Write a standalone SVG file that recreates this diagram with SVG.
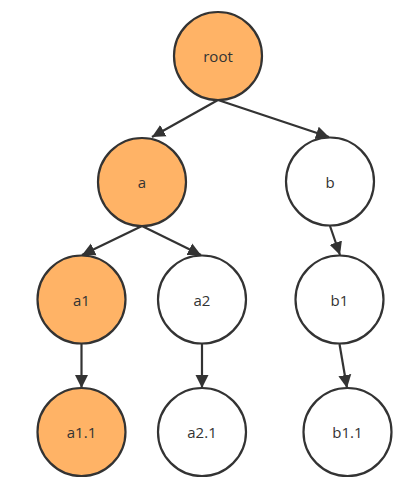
<svg xmlns="http://www.w3.org/2000/svg" width="413" height="487" viewBox="0 0 413 487">
<style>
.n circle{stroke:#333;stroke-width:2.2;fill:#fff}
.n.hl circle{fill:#ffb366}
.n text{font-family:"Open Sans","Noto Sans",sans-serif;font-size:15px;fill:#333;text-anchor:middle;dominant-baseline:central}
.e line{stroke:#333;stroke-width:2.2;marker-end:url(#ah)}
</style>
<defs>
<marker id="ah" markerUnits="userSpaceOnUse" markerWidth="14" markerHeight="14" refX="13" refY="6.5" orient="auto" viewBox="0 0 14 13">
<path d="M0,0 L13,6.5 L0,13 z" fill="#333"/>
</marker>
</defs>
<g class="e" id="connectors">
<line x1="218" y1="100" x2="152" y2="137"/>
<line x1="218" y1="100" x2="329" y2="137"/>
<line x1="142" y1="226" x2="82" y2="255"/>
<line x1="142" y1="226" x2="201" y2="255"/>
<line x1="330" y1="226" x2="340" y2="255"/>
<line x1="81.5" y1="344" x2="81.5" y2="388"/>
<line x1="202" y1="344" x2="202" y2="388"/>
<line x1="339.5" y1="344" x2="347" y2="388"/>
</g>
<g class="n hl" id="root"><circle cx="218" cy="56" r="44"/><text x="218" y="56">root</text></g>
<g class="n hl" id="a"><circle cx="142" cy="182" r="44"/><text x="142" y="182">a</text></g>
<g class="n" id="b"><circle cx="330" cy="181.5" r="44"/><text x="330" y="182">b</text></g>
<g class="n hl" id="a1"><circle cx="81.5" cy="299.5" r="44"/><text x="81.5" y="299.5">a1</text></g>
<g class="n" id="a2"><circle cx="202" cy="299.5" r="44"/><text x="202" y="299.5">a2</text></g>
<g class="n" id="b1"><circle cx="339.5" cy="299.5" r="44"/><text x="339.5" y="299.5">b1</text></g>
<g class="n hl" id="a1.1"><circle cx="81.5" cy="432" r="44"/><text x="81.5" y="432">a1.1</text></g>
<g class="n" id="a2.1"><circle cx="202" cy="432" r="44"/><text x="202" y="432">a2.1</text></g>
<g class="n" id="b1.1"><circle cx="347.5" cy="432" r="44"/><text x="347.5" y="432">b1.1</text></g>
</svg>
